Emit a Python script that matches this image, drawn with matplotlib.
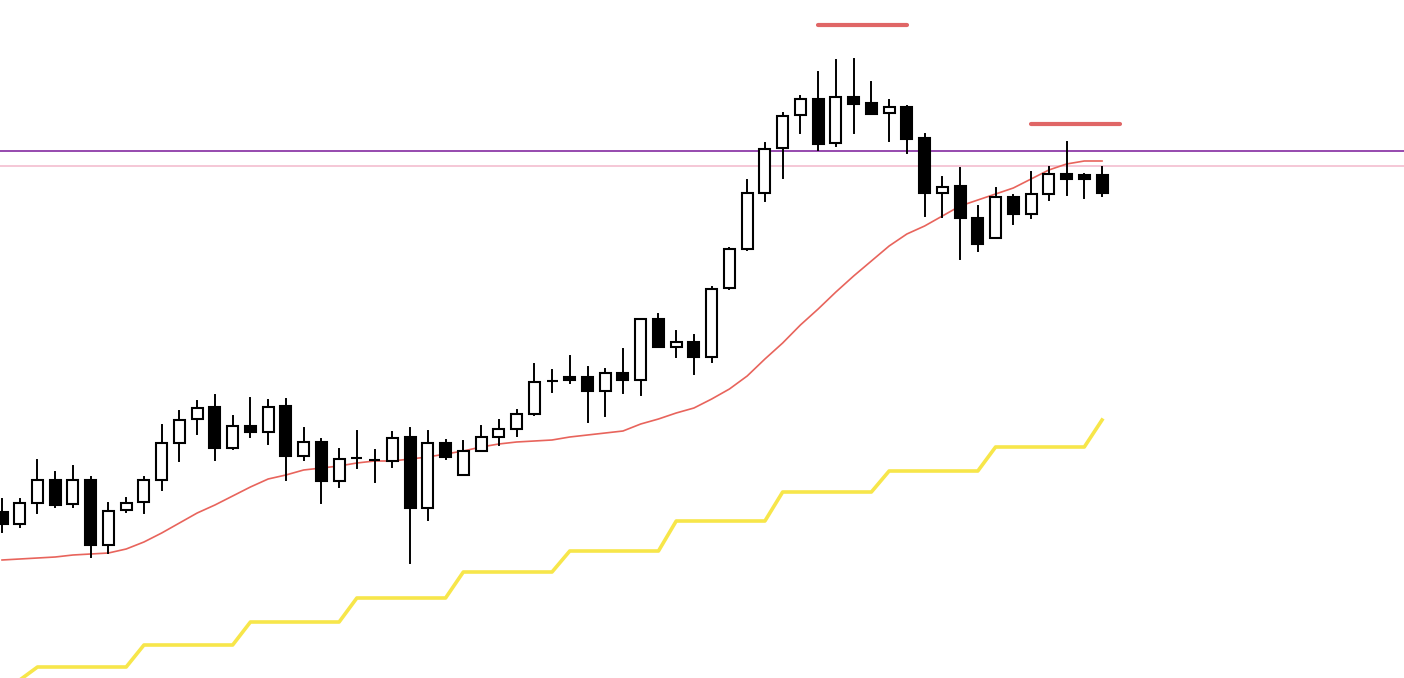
import numpy as np
import matplotlib
matplotlib.use("Agg")
import matplotlib.pyplot as plt
from matplotlib.patches import Rectangle

# OHLC (arbitrary price units)
opens = [166, 154, 175, 198, 174, 198, 133, 168, 176, 198, 235, 259, 271, 230, 252, 246,
         272, 222, 236, 197, 220, 218, 217, 241, 170, 235, 203, 227, 241, 249, 264, 297,
         301, 301, 287, 305, 298, 359, 331, 336, 321, 390, 429, 485, 530, 563, 579, 535,
         581, 575, 565, 571, 540, 485, 492, 460, 440, 481, 464, 484, 504, 503, 503]
highs = [179, 179, 218, 206, 212, 201, 175, 180, 201, 253, 267, 277, 283, 262, 280, 278,
         279, 250, 239, 229, 247, 228, 246, 250, 247, 238, 237, 252, 258, 268, 314, 308,
         322, 311, 309, 329, 359, 364, 347, 343, 391, 430, 498, 535, 565, 582, 606, 618,
         619, 596, 578, 572, 544, 501, 510, 472, 490, 483, 506, 511, 536, 504, 511]
lows = [146, 151, 165, 171, 171, 121, 125, 166, 165, 188, 217, 244, 218, 229, 241, 234,
        198, 218, 175, 191, 210, 196, 211, 115, 158, 219, 203, 227, 233, 242, 263, 286,
        295, 256, 262, 285, 283, 331, 321, 304, 316, 389, 428, 477, 500, 545, 528, 532,
        545, 564, 537, 525, 462, 461, 419, 427, 440, 454, 460, 478, 483, 480, 482]
closes = [154, 175, 198, 173, 198, 133, 167, 175, 198, 235, 258, 270, 230, 252, 246, 271,
          222, 236, 197, 219, 220, 218, 240, 170, 235, 221, 227, 241, 249, 264, 296, 297,
          298, 287, 305, 298, 359, 331, 336, 321, 389, 429, 485, 529, 562, 579, 534, 581,
          574, 564, 571, 539, 485, 491, 460, 434, 481, 464, 484, 504, 499, 499, 485]

# moving average (red)
ma = [118, 119, 120, 121, 123, 124, 125, 129, 136, 145, 155, 165, 173, 182, 191, 199,
      203, 208, 210, 212, 215, 217, 217, 219, 221, 224, 227, 231, 234, 236, 237, 238,
      241, 243, 245, 247, 254, 259, 265, 270, 279, 289, 302, 319, 335, 353, 369, 386,
      402, 417, 432, 444, 452, 462, 472, 478, 484, 490, 499, 508, 514, 517, 517]

# stepped line (yellow)
steps = [-22, -2, 11, 11, 11, 11, 11, 11, 33, 33, 33, 33, 33, 33, 56, 56, 56, 56, 56, 56,
         80, 80, 80, 80, 80, 80, 106, 106, 106, 106, 106, 106, 127, 127, 127, 127, 127, 127,
         157, 157, 157, 157, 157, 157, 186, 186, 186, 186, 186, 186, 207, 207, 207, 207,
         207, 207, 231, 231, 231, 231, 231, 231, 258]

# horizontal levels
purple_level = 527
pink_level = 512
# short resistance marks: (level, start index, end index)
marks = [(653, 46, 51), (554, 58, 63)]

n = len(opens)
x = np.arange(n)

fig = plt.figure(figsize=(14.04, 6.78), dpi=100)
ax = fig.add_axes([0, 0, 1, 1])
ax.set_xlim(-0.113, 79.02)
ax.set_ylim(0, 678)
ax.axis("off")

ax.axhline(purple_level, color="#8e3aa8", lw=1.3, zorder=1)
ax.axhline(pink_level, color="#f2b8cb", lw=1.1, zorder=1)

ax.plot(x, ma, color="#e8645c", lw=1.2, zorder=2)
ax.plot(x, steps, color="#f7e64a", lw=2.6, zorder=2)

for lvl, a, b in marks:
    ax.plot([a, b], [lvl, lvl], color="#e06666", lw=3, solid_capstyle="round", zorder=2)

w = 0.62
for i in range(n):
    o, h, l, c = opens[i], highs[i], lows[i], closes[i]
    ax.plot([i, i], [l, h], color="black", lw=1.4, zorder=3)
    bull = c >= o
    face = "white" if bull else "black"
    bottom = min(o, c)
    ax.add_patch(Rectangle((i - w / 2, bottom), w, abs(c - o), facecolor=face,
                           edgecolor="black", lw=1.5, zorder=4))

fig.savefig("out.png", dpi=100)
